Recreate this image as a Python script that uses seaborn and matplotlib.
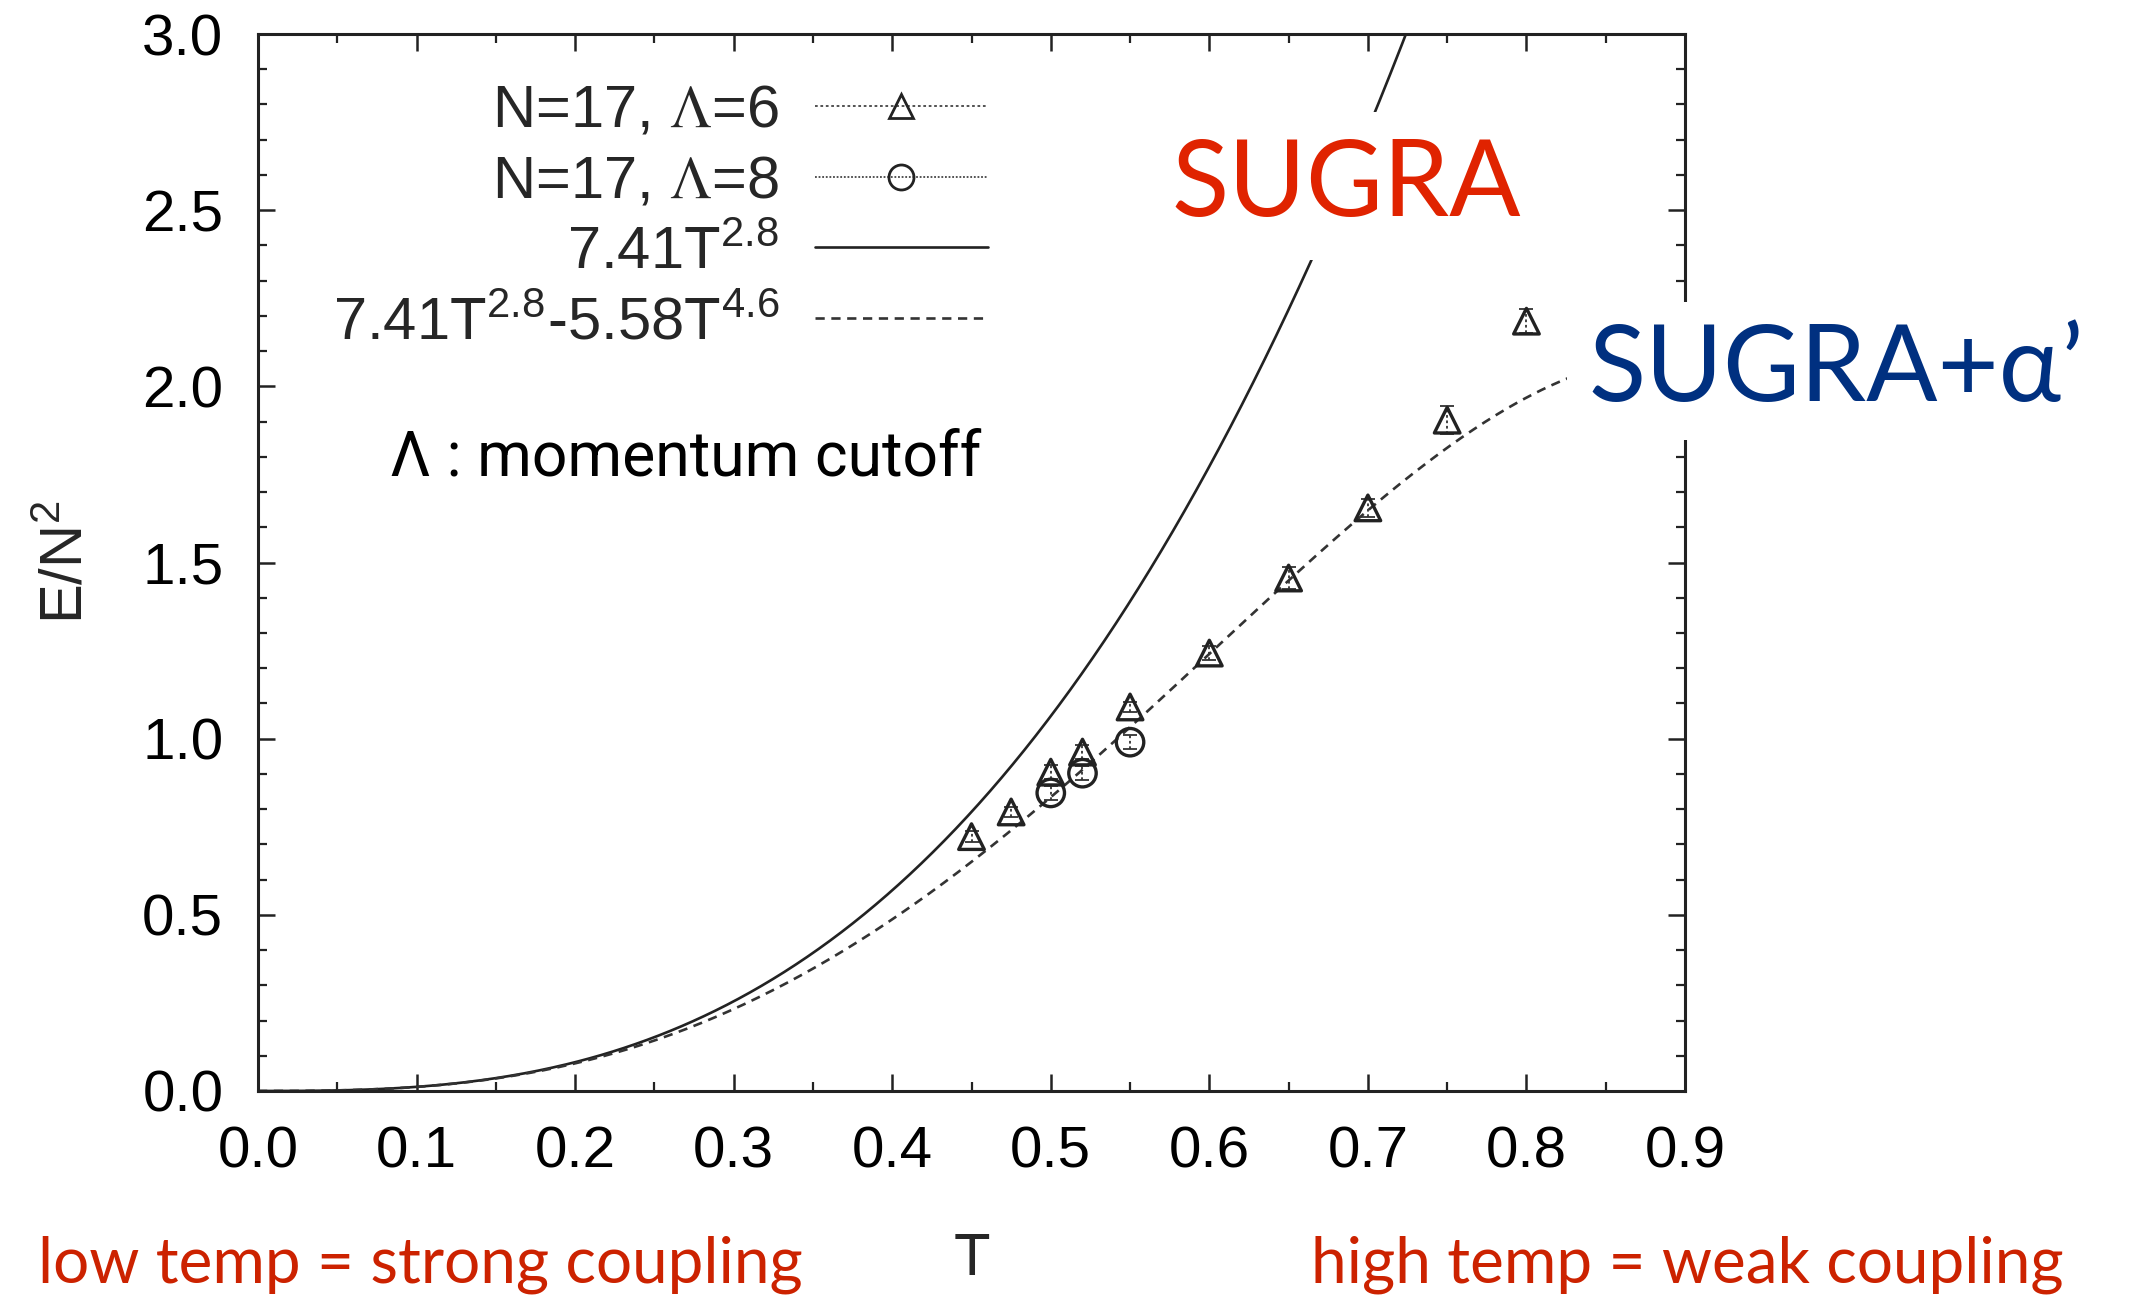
import numpy as np
import pandas as pd
import matplotlib
matplotlib.use("Agg")
import matplotlib.pyplot as plt
from matplotlib.lines import Line2D
from matplotlib.ticker import MultipleLocator, FormatStrFormatter
import seaborn as sns

# Lattice data, N=17, cutoff Lambda=6
T_L6 = [0.45, 0.475, 0.50, 0.52, 0.55, 0.60, 0.65, 0.70, 0.75, 0.80]
E_L6 = [0.722, 0.792, 0.905, 0.962, 1.09, 1.243, 1.456, 1.655, 1.904, 2.185]
ERR_L6 = [0.015, 0.015, 0.02, 0.02, 0.015, 0.02, 0.03, 0.025, 0.04, 0.035]

# Lattice data, N=17, cutoff Lambda=8
T_L8 = [0.50, 0.52, 0.55]
E_L8 = [0.846, 0.902, 0.99]
ERR_L8 = [0.02, 0.02, 0.02]

# Fit coefficients: E/N^2 = a T^p - b T^q
A_COEF, P_EXP = 7.41, 2.8
B_COEF, Q_EXP = 5.58, 4.6

LEGEND_LABELS = [
    r"N=17, $\Lambda$=6",
    r"N=17, $\Lambda$=8",
    r"7.41T$^{\mathregular{2.8}}$",
    r"7.41T$^{\mathregular{2.8}}$-5.58T$^{\mathregular{4.6}}$",
]
X_TICKS = np.arange(0.0, 0.91, 0.1)
Y_TICKS = np.arange(0.0, 3.01, 0.5)

sns.set_theme(style="ticks")
plt.rcParams.update({
    "font.family": ["Liberation Sans", "DejaVu Sans"],
    "mathtext.fontset": "stix",
    "axes.linewidth": 2.2,
    "axes.edgecolor": "#222222",
    "xtick.color": "#222222",
    "ytick.color": "#222222",
    "xtick.labelcolor": "black",
    "ytick.labelcolor": "black",
})

W, H = 2131, 1297
fig = plt.figure(figsize=(W / 100, H / 100), dpi=100)
ax = fig.add_axes([258 / W, 1 - 1091 / H, (1685 - 258) / W, (1091 - 34) / H])

ink = "#222222"
T_fit = np.linspace(0.0, 0.9, 500)
sugra = A_COEF * T_fit ** P_EXP
sugra_alpha = A_COEF * T_fit ** P_EXP - B_COEF * T_fit ** Q_EXP
curves = pd.DataFrame({"T": T_fit, "sugra": sugra, "sugra_alpha": sugra_alpha})

sns.lineplot(data=curves, x="T", y="sugra", ax=ax, color=ink, lw=1.9,
             sort=False, errorbar=None)
sns.lineplot(data=curves, x="T", y="sugra_alpha", ax=ax, color="#333333",
             lw=1.9, linestyle=(0, (3.5, 2.5)), sort=False, errorbar=None)

# error bars (dotted, gnuplot style)
for tx, ey, er in ((T_L6, E_L6, ERR_L6), (T_L8, E_L8, ERR_L8)):
    eb = ax.errorbar(tx, ey, yerr=er, fmt="none", ecolor="#333333",
                     elinewidth=1.3, capsize=5, capthick=1.3)
    for coll in eb[2]:
        coll.set_linestyle((0, (1.5, 1.5)))

sns.scatterplot(x=T_L6, y=E_L6, ax=ax, marker="^", s=340, facecolor="none",
                edgecolor=ink, linewidth=2.4, zorder=5)
sns.scatterplot(x=T_L8, y=E_L8, ax=ax, marker="o", s=390, facecolor="none",
                edgecolor=ink, linewidth=2.4, zorder=5)

ax.set_xlim(0, 0.9)
ax.set_ylim(0, 3.0)
ax.set_xticks(X_TICKS)
ax.set_yticks(Y_TICKS)
ax.xaxis.set_minor_locator(MultipleLocator(0.05))
ax.yaxis.set_minor_locator(MultipleLocator(0.1))
ax.xaxis.set_major_formatter(FormatStrFormatter("%.1f"))
ax.yaxis.set_major_formatter(FormatStrFormatter("%.1f"))
ax.tick_params(which="both", direction="in", top=True, right=True,
               labelsize=42, pad=25)
ax.tick_params(which="major", length=12, width=1.8)
ax.tick_params(which="minor", length=6.5, width=1.6)
for sp in ax.spines.values():
    sp.set_visible(True)

ax.set_xlabel("T", fontsize=43)
ax.set_ylabel("E/N$^{\\mathregular{2}}$", fontsize=43)
ax.xaxis.set_label_coords(0.5, -0.133)
ax.yaxis.set_label_coords(-0.115, 0.5)

# legend, gnuplot-like: text on the left, sample on the right
handles = [
    Line2D([], [], color="#444444", lw=1.3, ls=(0, (1.5, 1.5)), marker="^",
           ms=17, mfc="none", mec=ink, mew=2.0),
    Line2D([], [], color="#444444", lw=1.3, ls=(0, (1, 1)), marker="o",
           ms=18, mfc="none", mec=ink, mew=2.0),
    Line2D([], [], color=ink, lw=1.9),
    Line2D([], [], color="#333333", lw=1.9, ls=(0, (3.5, 2.5))),
]
fig.legend(handles, LEGEND_LABELS, loc="upper right",
           bbox_to_anchor=(988 / W, 1 - 84 / H), bbox_transform=fig.transFigure,
           frameon=False, markerfirst=False, fontsize=43, handlelength=2.9,
           handletextpad=0.6, labelspacing=0.26, borderpad=0, borderaxespad=0,
           numpoints=1)

fig.text(390 / W, 1 - 476 / H, "\u039b : momentum cutoff", fontsize=45,
         family=["Roboto", "Liberation Sans", "DejaVu Sans"],
         fontweight="normal", color="black", ha="left", va="baseline")

# regime labels
red = "#E02300"
blue = "#003080"
label_font = ["Lato", "DejaVu Sans"]
fig.text(1171 / W, 1 - 216 / H, "SUGRA", fontsize=76, family=label_font,
         color=red, ha="left", va="baseline",
         bbox=dict(boxstyle="square,pad=0.25", fc="white", ec="none"))
fig.text(1588 / W, 1 - 401 / H, "SUGRA+\u03b1\u2019", fontsize=76,
         family=label_font, color=blue, ha="left", va="baseline",
         bbox=dict(boxstyle="square,pad=0.2", fc="white", ec="none"))

fig.text(38 / W, 1 - 1283 / H, "low temp = strong coupling", fontsize=46,
         family=label_font, color="#CC2200", ha="left", va="baseline")
fig.text(1311 / W, 1 - 1283 / H, "high temp = weak coupling", fontsize=46,
         family=label_font, color="#CC2200", ha="left", va="baseline")

fig.savefig("out.png", dpi=100, facecolor="white")
